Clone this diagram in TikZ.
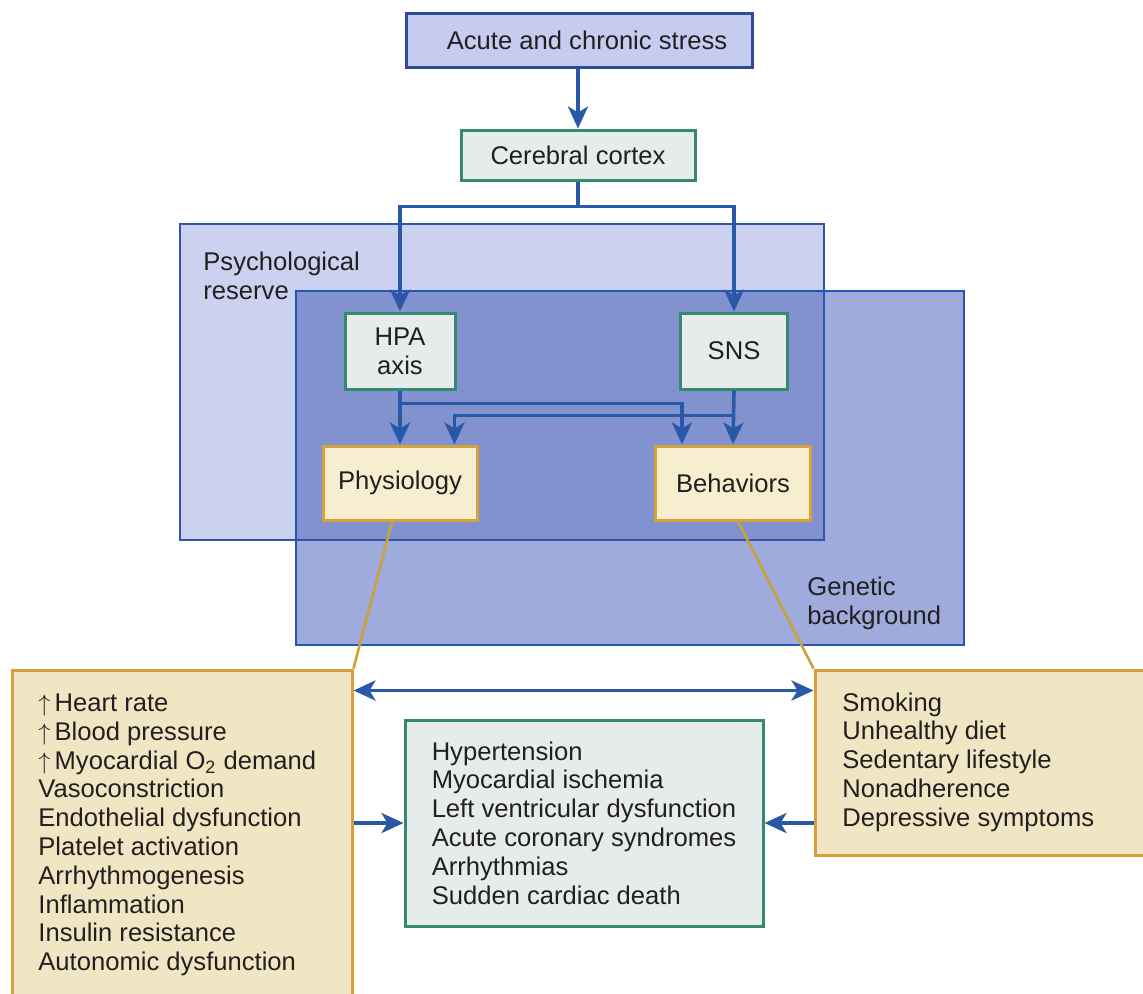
\documentclass[tikz,border=0pt]{standalone}
\usepackage{fontspec}
\setmainfont{Liberation Sans}
\usetikzlibrary{arrows.meta,calc,fit}

\definecolor{ink}{HTML}{231F20}
\definecolor{navy}{HTML}{2D4B9E}
\definecolor{flowblue}{HTML}{2A58A8}
\definecolor{lavender}{HTML}{C6CBF0}
\definecolor{reservefill}{HTML}{CCD1EF}
\definecolor{reserveline}{HTML}{3055A5}
\definecolor{geneticfill}{HTML}{9EABDC}
\definecolor{overlapfill}{HTML}{8292CF}
\definecolor{geneticline}{HTML}{2356B8}
\definecolor{tealline}{HTML}{358A6E}
\definecolor{greyfill}{HTML}{E6EBEB}
\definecolor{goldline}{HTML}{D4A23A}
\definecolor{creamfill}{HTML}{F7EDCF}
\definecolor{listfill}{HTML}{F1E6C3}
\definecolor{calloutline}{HTML}{C9A23A}

\tikzset{
  stressbox/.style={draw=navy, fill=lavender, line width=1.5pt, inner sep=0pt,
    minimum width=173pt, minimum height=27pt},
  greenbox/.style={draw=tealline, fill=greyfill, line width=1.5pt, inner sep=0pt, align=center},
  creambox/.style={draw=goldline, fill=creamfill, line width=1.5pt, inner sep=0pt, align=center},
  listbox/.style={draw=goldline, fill=listfill, line width=1.5pt, inner sep=0pt},
  listtext/.style={anchor=west, align=left, inner sep=0pt},
  tip/.style={Stealth[length=11pt,width=10pt,inset=3pt]},
  flow/.style={draw=flowblue, line width=1.8pt, -{Stealth[length=11pt,width=10pt,inset=3pt]}},
  plainflow/.style={draw=flowblue, line width=1.8pt},
  twoway/.style={draw=flowblue, line width=1.8pt,
    {Stealth[length=11pt,width=10pt,inset=3pt]}-{Stealth[length=11pt,width=10pt,inset=3pt]}},
  callout/.style={draw=calloutline, line width=1.3pt},
}

\begin{document}
\begin{tikzpicture}[x=0.5pt, y=-0.5pt, font=\fontsize{12.8}{14.4}\selectfont, text=ink]
\useasboundingbox (0,0) rectangle (1143,993);

% psychological reserve and genetic background regions
\fill[reservefill] (180,224) rectangle (824,540);
\fill[geneticfill] (296,291) rectangle (964,645);
\fill[overlapfill] (296,291) rectangle (824,540);
\draw[reserveline, line width=1.4pt] (180,224) rectangle (824,540);
\draw[geneticline, line width=1.4pt] (296,291) rectangle (964,645);
\node[listtext] (reservelabel) at (203,276) {Psychological\\reserve};
\node[listtext] (geneticlabel) at (807,603) {Genetic\\background};

% main chain
\node[stressbox] (stress) at (579,40) {\hspace*{8pt}Acute and chronic stress};
\node[greenbox, minimum width=117pt, minimum height=25pt] (cortex) at (578,155) {Cerebral cortex};
\node[greenbox, minimum width=55pt, minimum height=38pt] (hpa) at (400,351) {HPA\\axis};
\node[greenbox, minimum width=53.5pt, minimum height=38pt] (sns) at (734,351) {SNS};
\node[creambox, minimum width=77pt, minimum height=37pt] (phys) at (400,483) {Physiology};
\node[creambox, minimum width=77.5pt, minimum height=37pt] (behav) at (733,483) {Behaviors};

% detail boxes
\node[listbox, fit={(12,670) (352,1010)}] (lbox) {};
\node[listbox, fit={(815,670) (1160,855)}] (rbox) {};
\node[greenbox, minimum width=179pt, minimum height=103pt, align=left] (outcome) at (584,823)
  {Hypertension\\Myocardial ischemia\\Left ventricular dysfunction\\Acute coronary syndromes\\Arrhythmias\\Sudden cardiac death};
\node[listtext] (ltext) at (38,835)
  {$\uparrow$\,Heart rate\\$\uparrow$\,Blood pressure\\$\uparrow$\,Myocardial O\textsubscript{2} demand\\Vasoconstriction\\Endothelial dysfunction\\Platelet activation\\Arrhythmogenesis\\Inflammation\\Insulin resistance\\Autonomic dysfunction};
\node[listtext] (rtext) at (842,762)
  {Smoking\\Unhealthy diet\\Sedentary lifestyle\\Nonadherence\\Depressive symptoms};

% connectors
\draw[flow] (stress.south -| cortex.north) -- (cortex.north);
\coordinate (split) at ($(cortex.south)+(0,25)$);
\draw[plainflow] (cortex.south) -- (split);
\draw[flow] (split) -| (hpa.north);
\draw[flow] (split) -| (sns.north);
\draw[flow] (hpa.south) -- (phys.north);
\draw[flow] (sns.south) -- (behav.north);
\draw[flow] ($(hpa.south)+(0,13)$) -| ($(behav.north west)+(28,0)$);
\draw[flow] ($(sns.south)+(0,25)$) -| ($(phys.north west)+(133,0)$);

% callouts
\draw[callout] ($(phys.south)+(-8,0)$) -- (lbox.north east);
\draw[callout] ($(behav.south)+(5,0)$) -- (rbox.north west);

% links around the outcomes
\draw[twoway] ($(lbox.north east)+(0,22)$) -- ($(rbox.north west)+(0,22)$);
\draw[flow] (outcome.west -| lbox.east) -- (outcome.west);
\draw[flow] (outcome.east -| rbox.west) -- (outcome.east);
\end{tikzpicture}
\end{document}
